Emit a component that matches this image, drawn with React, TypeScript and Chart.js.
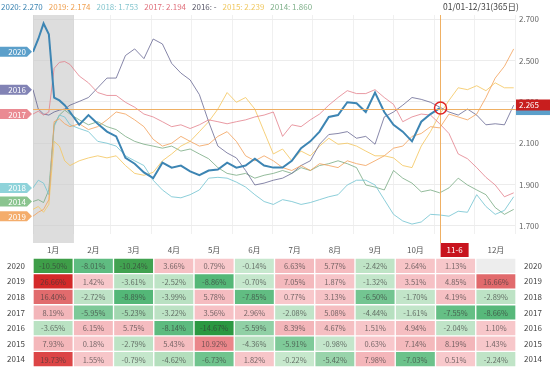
import React, { useEffect, useRef } from 'react';
import { Chart, registerables } from 'chart.js';
Chart.register(...registerables);

const FONT = '"Noto Sans CJK SC", "Noto Sans", sans-serif';

// x positions: day of year
const days = [0, 4, 8, 12, 16, 20, 24, 28, 35, 42, 49, 56, 63, 70, 77, 84, 91, 98, 105, 112, 119, 126, 133, 140, 147, 154, 161, 168, 175, 182, 189, 196, 203, 210, 217, 224, 231, 238, 245, 252, 259, 266, 273, 280, 287, 294, 301, 308, 315, 322, 329, 336, 343, 350, 357, 364];

const vals2020 = [2.542, 2.604, 2.679, 2.627, 2.321, 2.307, 2.284, 2.251, 2.189, 2.236, 2.194, 2.156, 2.133, 2.029, 2.001, 1.959, 1.931, 2.006, 1.982, 1.992, 1.964, 1.945, 1.968, 1.973, 2.006, 1.982, 1.992, 2.025, 1.992, 1.982, 1.982, 2.015, 2.076, 2.109, 2.156, 2.227, 2.236, 2.298, 2.293, 2.251, 2.345, 2.251, 2.189, 2.156, 2.109, 2.204, 2.241, 2.270];
const vals2019 = [1.747, 1.766, 1.780, 1.827, 2.204, 2.218, 2.194, 2.180, 2.194, 2.166, 2.180, 2.213, 2.251, 2.241, 2.213, 2.180, 2.119, 2.086, 2.100, 2.133, 2.109, 2.086, 2.095, 2.133, 2.156, 2.109, 2.039, 2.015, 2.039, 2.015, 1.982, 1.968, 1.992, 1.968, 2.001, 1.992, 1.982, 2.015, 2.001, 1.992, 2.015, 2.039, 2.076, 2.086, 2.133, 2.147, 2.180, 2.174, 2.241, 2.227, 2.213, 2.241, 2.321, 2.415, 2.472, 2.556];
const vals2018 = [1.884, 1.921, 1.907, 1.851, 2.180, 2.236, 2.227, 2.189, 2.171, 2.156, 2.109, 2.100, 2.086, 2.039, 2.015, 1.992, 1.921, 1.874, 1.841, 1.836, 1.851, 1.874, 1.931, 1.935, 1.931, 1.912, 1.888, 1.851, 1.818, 1.804, 1.827, 1.818, 1.804, 1.813, 1.827, 1.841, 1.851, 1.898, 1.921, 1.921, 1.898, 1.827, 1.756, 1.724, 1.709, 1.719, 1.756, 1.753, 1.747, 1.771, 1.766, 1.851, 1.794, 1.756, 1.775, 1.841];
const vals2017 = [2.241, 2.255, 2.236, 2.251, 2.462, 2.491, 2.495, 2.481, 2.425, 2.392, 2.345, 2.331, 2.331, 2.298, 2.274, 2.241, 2.227, 2.204, 2.180, 2.189, 2.171, 2.189, 2.213, 2.204, 2.194, 2.204, 2.213, 2.227, 2.236, 2.251, 2.133, 2.189, 2.180, 2.213, 2.241, 2.284, 2.321, 2.354, 2.340, 2.340, 2.359, 2.321, 2.288, 2.204, 2.227, 2.241, 2.236, 2.194, 2.147, 2.048, 2.025, 1.982, 1.935, 1.898, 1.841, 1.860];
const vals2016 = [2.359, 2.265, 2.241, 2.236, 2.251, 2.260, 2.265, 2.284, 2.302, 2.321, 2.368, 2.415, 2.415, 2.524, 2.556, 2.509, 2.604, 2.580, 2.486, 2.439, 2.406, 2.335, 2.204, 2.086, 2.053, 2.029, 1.968, 1.898, 1.907, 1.921, 1.931, 1.954, 1.992, 2.015, 2.095, 2.142, 2.147, 2.156, 2.124, 2.133, 2.095, 2.227, 2.251, 2.284, 2.321, 2.312, 2.298, null, 2.251, 2.236, 2.265, 2.236, 2.189, 2.194, 2.189, 2.284];
const vals2015 = [1.780, 1.794, 1.766, 1.804, 2.109, 2.086, 2.015, 1.992, 2.015, 2.029, 2.039, 2.029, 2.039, 1.992, 1.954, 1.945, 1.959, 2.015, 2.048, 2.086, 2.109, 2.156, 2.204, 2.265, 2.345, 2.298, 2.321, 2.265, 2.156, 2.048, 2.072, 2.015, 2.062, 2.039, 2.086, 2.124, 2.095, 2.100, 2.086, 2.062, 2.039, 2.039, 2.029, 1.992, 1.982, 2.086, 2.156, 2.239, 2.307, 2.368, 2.359, 2.378, 2.354, 2.392, 2.368, 2.368];
const vals2014 = [1.818, 1.827, 1.813, 1.874, 2.189, 2.236, 2.260, 2.241, 2.213, 2.189, 2.204, 2.180, 2.166, 2.133, 2.109, 2.095, 2.086, 2.076, 2.086, 2.062, 2.072, 2.048, 2.025, 1.982, 1.954, 1.945, 1.954, 1.931, 1.945, 1.954, 1.968, 1.954, 1.982, 1.968, 1.992, 2.001, 2.015, 2.001, 1.982, 1.898, 1.888, 1.874, 1.968, 1.931, 1.907, 1.865, 1.874, 1.860, 1.884, 1.931, 1.898, 1.874, 1.851, 1.789, 1.756, 1.780];

const seriesYears = ['2020', '2019', '2018', '2017', '2016', '2015', '2014'];
const seriesVals = [vals2020, vals2019, vals2018, vals2017, vals2016, vals2015, vals2014];
const lineColors = ['#3d85b3', 'rgba(243,160,90,0.8)', 'rgba(120,198,210,0.85)', 'rgba(226,120,132,0.75)', 'rgba(95,95,140,0.75)', 'rgba(244,200,100,0.85)', 'rgba(120,170,130,0.8)'];
const legendColors = ['#3d85b3', '#f0a050', '#86c6cf', '#e0707c', '#555566', '#f0c860', '#7fb08a'];
const tagYears = ['2019', '2014', '2018', '2017', '2016', '2020'];
const tagColors: Record<string, string> = { '2020': '#5b9fca', '2016': '#8283b5', '2017': '#ea8a92', '2018': '#8fd3da', '2014': '#8ac48f', '2019': '#f4ad6c' };

const monthBounds = [0, 31, 59, 90, 120, 151, 181, 212, 243, 273, 304, 334, 365];
const yTicks = [1.7, 1.9, 2.1, 2.3, 2.5, 2.7];
const crossIndex = 47;
const crossValue = 2.265;
const dateRangeText = '01/01-12/31(365日)';

// table
const monthLabels = ['1月', '2月', '3月', '4月', '5月', '6月', '7月', '8月', '9月', '10月', '11-6', '12月'];
const crossMonth = 10;
const tableYears = ['2020', '2019', '2018', '2017', '2016', '2015', '2014'];
const ret2020 = [-10.50, -8.01, -10.24, 3.66, 0.79, -0.14, 6.63, 5.77, -2.42, 2.64, 1.13, null];
const ret2019 = [26.66, 1.42, -3.61, -2.52, -8.86, -0.70, 7.05, 1.87, -1.32, 3.51, 4.85, 16.66];
const ret2018 = [16.40, -2.72, -8.89, -3.99, 5.78, -7.85, 0.77, 3.13, -6.50, -1.70, 4.19, -2.89];
const ret2017 = [8.19, -5.95, -5.23, -3.22, 3.56, 2.96, -2.08, 5.08, -4.44, -1.61, -7.55, -8.66];
const ret2016 = [-3.65, 6.15, 5.75, -8.14, -14.67, -5.59, 8.39, 4.67, 1.51, 4.94, -2.04, 1.10];
const ret2015 = [7.93, 0.18, -2.79, 5.43, 10.92, -4.36, -5.91, -0.98, 0.63, 7.14, 8.19, 1.43];
const ret2014 = [19.73, 1.55, -0.79, -4.62, -6.73, 1.82, -0.22, -5.42, 7.98, -7.03, 0.51, -2.24];
const tableRows = [ret2020, ret2019, ret2018, ret2017, ret2016, ret2015, ret2014];

const posStops: [number, number[]][] = [[0, [248, 202, 205]], [9, [243, 180, 184]], [11, [234, 132, 136]], [17, [224, 104, 106]], [20, [220, 66, 66]], [27, [212, 40, 40]]];
const negStops: [number, number[]][] = [[0, [200, 232, 206]], [4.5, [183, 224, 192]], [5.3, [160, 214, 175]], [6, [122, 200, 150]], [9, [82, 182, 118]], [10.5, [62, 158, 72]], [15, [42, 152, 64]]];

function heatColor(v: number | null) {
  if (v == null) return '#ededed';
  const stops = v >= 0 ? posStops : negStops;
  const a = Math.abs(v);
  let c = stops[stops.length - 1][1];
  for (let i = 0; i < stops.length - 1; i++) {
    const [a0, c0] = stops[i];
    const [a1, c1] = stops[i + 1];
    if (a >= a0 && a <= a1) {
      const t = (a - a0) / (a1 - a0);
      c = c0.map((ch, k) => Math.round(ch + (c1[k] - ch) * t));
      break;
    }
  }
  return `rgb(${c[0]},${c[1]},${c[2]})`;
}

const linePlugin = {
  id: 'lineOverlay',
  beforeDatasetsDraw(chart: any) {
    const { ctx, chartArea, scales } = chart;
    const x = scales.x;
    ctx.save();
    ctx.fillStyle = 'rgba(200,200,200,0.62)';
    const x0 = x.getPixelForValue(monthBounds[0]);
    const x1 = x.getPixelForValue(monthBounds[1]);
    ctx.fillRect(x0, chartArea.top, x1 - x0, chart.height - chartArea.top);
    ctx.restore();
  },
  afterDatasetsDraw(chart: any) {
    const { ctx, chartArea, scales } = chart;
    const x = scales.x;
    const y = scales.y;
    ctx.save();
    // crosshair
    const cx = Math.round(x.getPixelForValue(days[crossIndex])) + 0.5;
    const cy = Math.round(y.getPixelForValue(crossValue)) + 0.5;
    ctx.strokeStyle = 'rgba(238,172,92,0.95)';
    ctx.lineWidth = 1;
    ctx.beginPath();
    ctx.moveTo(cx, chartArea.top);
    ctx.lineTo(cx, chart.height);
    ctx.moveTo(chartArea.left, cy);
    ctx.lineTo(chartArea.right + 2, cy);
    ctx.stroke();
    // circle on 2020
    const last2020 = vals2020[crossIndex];
    const py2020 = y.getPixelForValue(last2020);
    ctx.strokeStyle = '#e02424';
    ctx.lineWidth = 1.5;
    ctx.beginPath();
    ctx.arc(cx, py2020, 6, 0, Math.PI * 2);
    ctx.stroke();
    // right labels
    ctx.fillStyle = '#5b9fca';
    ctx.fillRect(chartArea.right + 1, py2020 - 6, 35, 13);
    ctx.fillStyle = '#c81e1e';
    ctx.fillRect(chartArea.right + 1, cy - 10, 35, 11);
    ctx.fillStyle = '#ffffff';
    ctx.font = `8px ${FONT}`;
    ctx.textBaseline = 'middle';
    ctx.textAlign = 'left';
    ctx.fillText(crossValue.toFixed(3), chartArea.right + 4, cy - 4.5);
    // left tags
    tagYears.forEach((yr) => {
      const idx = seriesYears.indexOf(yr);
      const ty = y.getPixelForValue(seriesVals[idx][0]);
      ctx.fillStyle = tagColors[yr];
      ctx.beginPath();
      ctx.moveTo(0, ty - 5);
      ctx.lineTo(27, ty - 5);
      ctx.lineTo(32, ty);
      ctx.lineTo(27, ty + 5);
      ctx.lineTo(0, ty + 5);
      ctx.closePath();
      ctx.fill();
      ctx.fillStyle = '#ffffff';
      ctx.textAlign = 'right';
      ctx.fillText(yr, 26, ty + 0.5);
    });
    // legend
    ctx.font = `8px ${FONT}`;
    ctx.textAlign = 'left';
    ctx.textBaseline = 'middle';
    let lx = 1;
    seriesYears.forEach((yr, i) => {
      const v = seriesVals[i][crossIndex];
      const txt = `${yr}: ${v == null ? '-' : v.toFixed(3)}`;
      ctx.fillStyle = legendColors[i];
      ctx.fillText(txt, lx, 7);
      lx += ctx.measureText(txt).width + 6;
    });
    ctx.fillStyle = '#444';
    ctx.font = `8.5px ${FONT}`;
    ctx.fillText(dateRangeText, 443, 7);
    ctx.restore();
  },
};

const tablePlugin = {
  id: 'tableOverlay',
  afterDatasetsDraw(chart: any) {
    const { ctx, scales } = chart;
    const xs = scales.x;
    const ys = scales.y;
    ctx.save();
    // header labels
    ctx.textAlign = 'center';
    ctx.textBaseline = 'middle';
    ctx.font = `8px ${FONT}`;
    monthLabels.forEach((lab, i) => {
      const px = xs.getPixelForTick(i);
      if (i === crossMonth) {
        ctx.fillStyle = '#c8141e';
        ctx.fillRect(px - 15, 0, 28, 14);
        ctx.fillStyle = '#ffffff';
        ctx.fillText(lab, px - 1, 7);
      } else {
        ctx.fillStyle = '#555';
        ctx.fillText(lab, px, 7);
      }
    });
    ctx.font = `7.5px ${FONT}`;
    tableRows.forEach((row, r) => {
      const meta = chart.getDatasetMeta(r);
      row.forEach((v, i) => {
        if (v == null) return;
        const el = meta.data[i];
        ctx.fillStyle = 'rgba(55,55,55,0.68)';
        ctx.fillText(v.toFixed(2) + '%', el.x, (el.y + el.base) / 2 + 0.5);
      });
      const cyr = ys.getPixelForValue(r + 0.5);
      ctx.fillStyle = '#444';
      ctx.font = `8px ${FONT}`;
      ctx.fillText(tableYears[r], 16, cyr);
      ctx.fillText(tableYears[r], 533, cyr);
      ctx.font = `7.5px ${FONT}`;
    });
    ctx.restore();
  },
};

export default function App() {
  const lineRef = useRef<HTMLCanvasElement | null>(null);
  const tableRef = useRef<HTMLCanvasElement | null>(null);

  useEffect(() => {
    Chart.defaults.font.family = FONT;
    const lineChart = new Chart(lineRef.current as HTMLCanvasElement, {
      type: 'line',
      data: {
        datasets: seriesYears.map((yr, i) => ({
          label: yr,
          data: seriesVals[i].map((v, k) => ({ x: days[k], y: v })),
          borderColor: lineColors[i],
          borderWidth: i === 0 ? 2 : 1,
          pointRadius: 0,
          tension: 0,
          spanGaps: true,
          fill: false,
        })),
      },
      options: {
        responsive: false,
        animation: false,
        events: [],
        layout: { padding: { left: 33, top: 15, right: 0, bottom: 0 } },
        plugins: { legend: { display: false }, tooltip: { enabled: false } },
        scales: {
          x: {
            type: 'linear',
            min: 0,
            max: 365,
            afterBuildTicks: (s: any) => { s.ticks = monthBounds.map((v) => ({ value: v })); },
            ticks: { display: false },
            grid: { color: '#f0f0f0', drawTicks: false },
            border: { display: false },
            afterFit: (s: any) => { s.height = 3; },
          },
          y: {
            position: 'right',
            min: 1.66,
            max: 2.72,
            afterBuildTicks: (s: any) => { s.ticks = yTicks.map((v) => ({ value: v })); },
            ticks: { callback: (v: any) => Number(v).toFixed(3), color: '#666', font: { size: 8 }, padding: 4 },
            grid: { color: '#ececec', drawTicks: false },
            border: { display: false },
            afterFit: (s: any) => { s.width = 35; },
          },
        },
      } as any,
      plugins: [linePlugin],
    });

    const tableChart = new Chart(tableRef.current as HTMLCanvasElement, {
      type: 'bar',
      data: {
        labels: monthLabels,
        datasets: tableRows.map((row, r) => ({
          label: tableYears[r],
          data: row.map(() => [r, r + 1]),
          backgroundColor: row.map((v) => heatColor(v)),
          borderColor: '#ffffff',
          borderWidth: 1,
          borderSkipped: false,
          grouped: false,
          categoryPercentage: 1,
          barPercentage: 1,
        })),
      } as any,
      options: {
        responsive: false,
        animation: false,
        events: [],
        layout: { padding: { left: 33, right: 34, top: 0, bottom: 0 } },
        plugins: { legend: { display: false }, tooltip: { enabled: false } },
        scales: {
          x: {
            position: 'top',
            grid: { display: false },
            border: { display: false },
            ticks: { display: false },
            afterFit: (s: any) => { s.height = 15; },
          },
          y: { display: false, min: 0, max: 7, reverse: true },
        },
      } as any,
      plugins: [tablePlugin],
    });

    return () => {
      lineChart.destroy();
      tableChart.destroy();
    };
  }, []);

  return (
    <div style={{ position: 'absolute', left: 0, top: 0, width: 550, height: 367, background: '#fff' }}>
      <canvas ref={lineRef} width={550} height={243} style={{ position: 'absolute', left: 0, top: 0 }} />
      <canvas ref={tableRef} width={550} height={124} style={{ position: 'absolute', left: 0, top: 243 }} />
    </div>
  );
}
